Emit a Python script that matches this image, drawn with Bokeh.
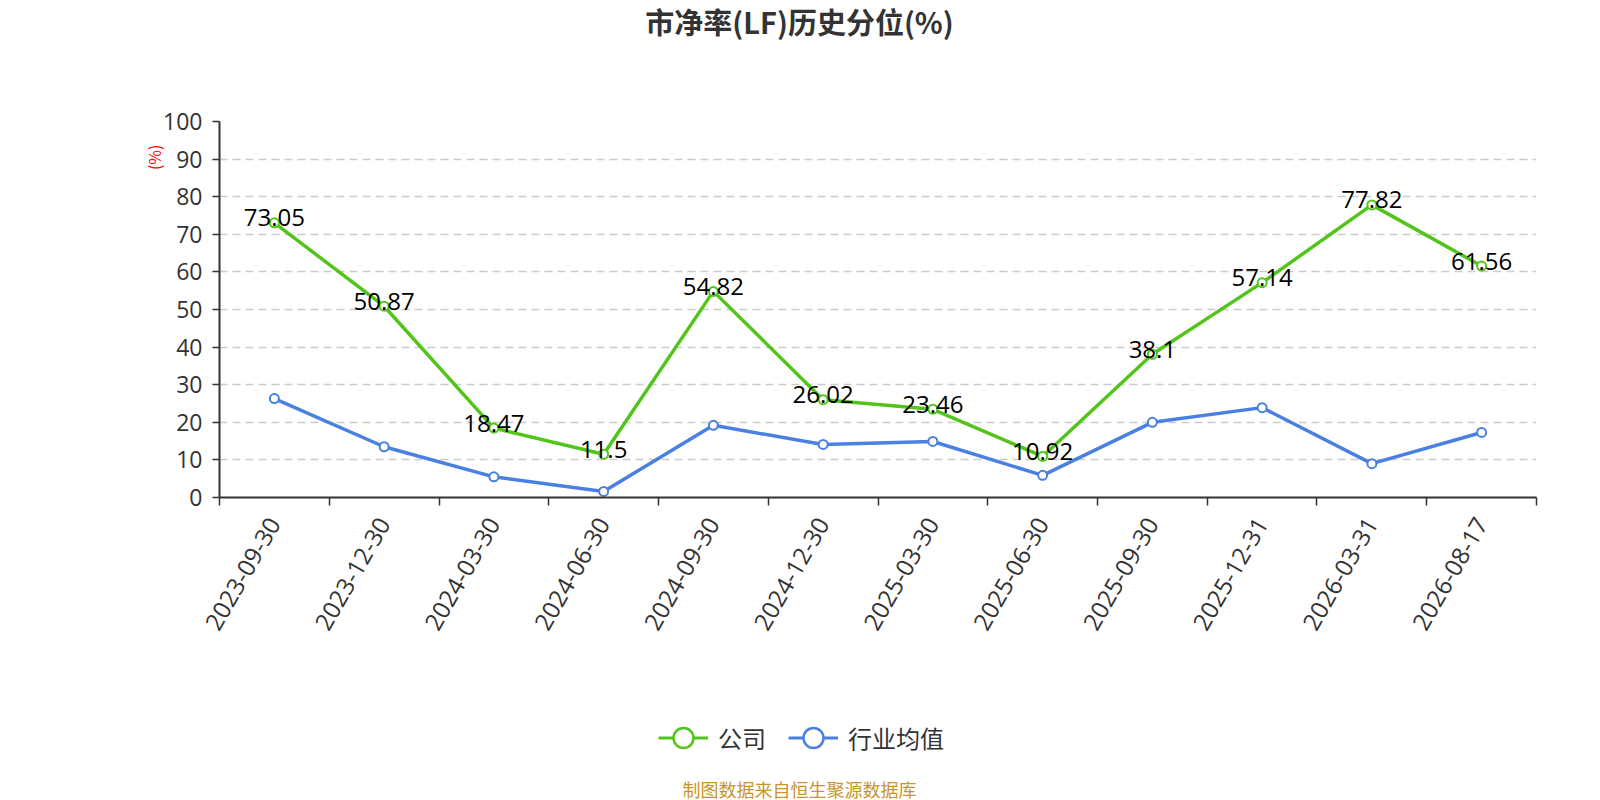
import math
from bokeh.plotting import figure
from bokeh.layouts import column
from bokeh.models import (FactorRange, Range1d, LinearAxis, CategoricalAxis, Title, Label,
                          FixedTicker, Legend, LegendItem, ColumnDataSource)
from bokeh.core.properties import value
from bokeh.embed import file_html
from bokeh.resources import INLINE

dates = ["2023-09-30", "2023-12-30", "2024-03-30", "2024-06-30", "2024-09-30", "2024-12-30",
         "2025-03-30", "2025-06-30", "2025-09-30", "2025-12-31", "2026-03-31", "2026-08-17"]
company = [73.05, 50.87, 18.47, 11.5, 54.82, 26.02, 23.46, 10.92, 38.1, 57.14, 77.82, 61.56]
industry = [26.3, 13.5, 5.5, 1.6, 19.2, 14.1, 14.9, 5.9, 20.0, 23.9, 9.0, 17.3]
y_ticks = list(range(0, 101, 10))

GREEN = "#52c41a"
BLUE = "#4a80e2"
NUM_FONT = "Open Sans"
CJK_FONT = "Noto Sans CJK SC"

W = 1600
FL, FW = 219, 1317          # plot frame left edge and width (px)
FR = FL + FW
T_H, M_H, B_H = 92, 555, 153   # top strip, chart, bottom strip
FRAME_TOP, FRAME_H = 121, 376


def strip(height):
    f = figure(width=W, height=height, output_backend="svg", toolbar_location=None,
               x_range=Range1d(FL, FR), y_range=Range1d(0, height),
               x_axis_location=None, y_axis_location=None)
    f.min_border = 0
    f.min_border_left = FL
    f.min_border_right = W - FR
    f.min_border_top = 0
    f.min_border_bottom = 0
    f.outline_line_color = None
    f.grid.visible = False
    f.background_fill_color = "white"
    f.border_fill_color = "white"
    return f


# ---- top strip: title
top = strip(T_H)
top.add_layout(Label(x=799, y=T_H - 20, text="市净率(LF)历史分位(%)", text_align="center",
                     text_baseline="middle", text_font=CJK_FONT, text_font_size="29px",
                     text_font_style="bold", text_color="#333333"))

# ---- main chart
p = figure(width=W, height=M_H, output_backend="svg", toolbar_location=None,
           x_range=FactorRange(factors=dates, range_padding=0),
           y_range=Range1d(0, 100), x_axis_location=None, y_axis_location=None)
p.min_border_left = FL
p.min_border_right = W - FR
p.min_border_top = FRAME_TOP - T_H
p.min_border_bottom = M_H - (FRAME_TOP - T_H) - FRAME_H
p.outline_line_color = None
p.background_fill_color = "white"
p.border_fill_color = "white"

yax = LinearAxis(ticker=FixedTicker(ticks=y_ticks))
yax.axis_line_color = "#333333"
yax.axis_line_width = 2
yax.major_tick_line_color = "#333333"
yax.major_tick_line_width = 1.5
yax.major_tick_out = 7
yax.major_tick_in = 0
yax.minor_tick_line_color = None
yax.major_label_text_font = NUM_FONT
yax.major_label_text_font_size = "23px"
yax.major_label_text_color = "#333333"
yax.major_label_standoff = 10
p.add_layout(yax, "left")

unit = Title(text="(%)", align="right", offset=23, standoff=-10, text_font=CJK_FONT,
             text_font_size="16px", text_font_style="normal", text_color="#ff0000")
p.add_layout(unit, "left")

# tick marks on band boundaries: second categorical range whose factor centres
# fall on the band edges of the main range
bounds = [str(k) for k in range(len(dates) + 1)]
p.extra_x_ranges = {"ticks": FactorRange(factors=bounds, range_padding=-0.499,
                                         range_padding_units="absolute")}
tax = CategoricalAxis(x_range_name="ticks")
tax.axis_line_color = "#333333"
tax.axis_line_width = 2
tax.major_tick_line_color = "#333333"
tax.major_tick_line_width = 1.5
tax.major_tick_out = 8
tax.major_tick_in = 0
tax.minor_tick_line_color = None
tax.major_label_text_color = None
tax.major_label_text_font_size = "1px"
tax.major_label_standoff = 0
p.add_layout(tax, "below")

xax = CategoricalAxis()
xax.axis_line_color = None
xax.major_tick_line_color = None
xax.minor_tick_line_color = None
xax.major_label_orientation = math.pi / 3
xax.major_label_text_font = NUM_FONT
xax.major_label_text_font_size = "24px"
xax.major_label_text_color = "#333333"
xax.major_label_standoff = 8
p.add_layout(xax, "below")

p.xgrid.grid_line_color = None
p.ygrid.ticker = FixedTicker(ticks=y_ticks[1:])
p.ygrid.grid_line_color = "#cccccc"
p.ygrid.grid_line_dash = "8 5"
p.ygrid.grid_line_width = 1.5

src = ColumnDataSource(dict(x=dates, c=company, i=industry, lab=[str(v) for v in company]))

p.line("x", "i", source=src, line_color=BLUE, line_width=3.5)
p.scatter("x", "i", source=src, size=9, fill_color="white", line_color=BLUE, line_width=2)
p.line("x", "c", source=src, line_color=GREEN, line_width=3.5)
p.scatter("x", "c", source=src, size=9, fill_color="white", line_color=GREEN, line_width=2)
p.text("x", "c", text="lab", source=src, text_align="center", text_baseline="middle",
       y_offset=-5, text_font=value(NUM_FONT), text_font_size="24px", text_color="#000000")

# ---- bottom strip: legend and source note
bot = strip(B_H)
# legend-only renderers: a single point placed outside the visible strip
off_x, off_y = [FL - 500], [-500]
lg_c = bot.line(off_x, off_y, line_color=GREEN, line_width=3)
ls_c = bot.scatter(off_x, off_y, size=20, fill_color="white", line_color=GREEN, line_width=2.5)
lg_i = bot.line(off_x, off_y, line_color=BLUE, line_width=3)
ls_i = bot.scatter(off_x, off_y, size=20, fill_color="white", line_color=BLUE, line_width=2.5)
legend = Legend(items=[LegendItem(label="公司", renderers=[lg_c, ls_c]),
                       LegendItem(label="行业均值", renderers=[lg_i, ls_i])],
                location=(658 - FL, 35), orientation="horizontal")
legend.border_line_color = None
legend.background_fill_alpha = 0
legend.label_text_font = CJK_FONT
legend.label_text_font_size = "24px"
legend.label_text_color = "#333333"
legend.glyph_width = 50
legend.glyph_height = 55
legend.spacing = 22
legend.label_standoff = 10
legend.padding = 0
legend.margin = 0
bot.add_layout(legend)

bot.add_layout(Label(x=799, y=12, text="制图数据来自恒生聚源数据库", text_align="center",
                     text_baseline="middle", text_font=CJK_FONT, text_font_size="18px",
                     text_color="#c8952c"))

layout = column(top, p, bot, spacing=0)
open("out.html", "w").write(file_html(layout, INLINE))
